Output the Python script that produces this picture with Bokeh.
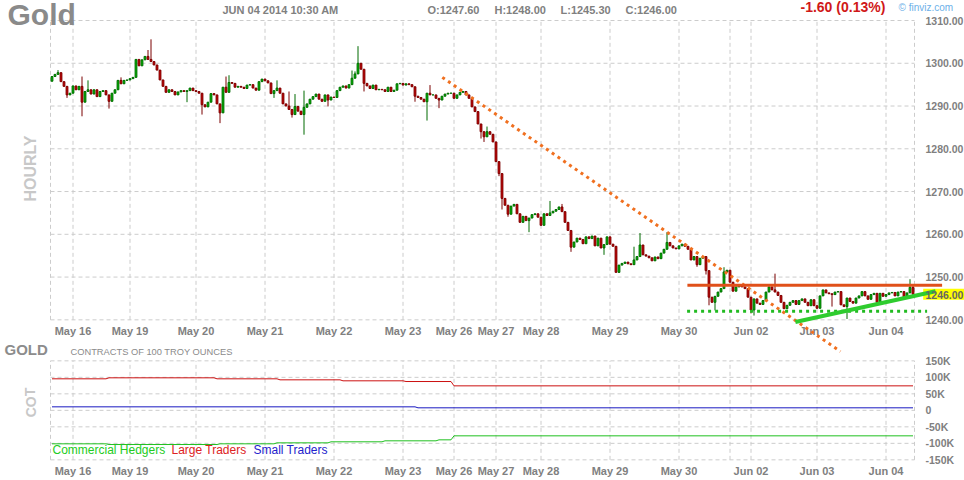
from bokeh.plotting import figure
from bokeh.models import Range1d, ColumnDataSource
from bokeh.core.properties import value
from bokeh.embed import file_html
from bokeh.resources import INLINE

FONT = "Liberation Sans"
GRAY = "#808080"
GRID = "#cccccc"

# Gold, hourly bars May 16 - Jun 04 2014
first_open = 1295.8
close = [
    1296.9, 1297.4, 1297.8, 1295.7, 1294.6, 1292.6, 1293.0, 1294.7, 1293.8, 1294.6,
    1290.9, 1293.4, 1293.8, 1292.8, 1293.8, 1292.2, 1293.4, 1293.6, 1292.6, 1291.1,
    1293.0, 1293.8, 1296.0, 1295.2, 1296.0, 1296.1, 1296.4, 1296.7, 1300.9, 1299.4,
    1300.8, 1301.6, 1300.9, 1300.4, 1299.6, 1298.4, 1296.1, 1294.6, 1293.2, 1293.8,
    1293.4, 1292.6, 1293.3, 1293.6, 1293.4, 1293.6, 1294.2, 1293.6, 1293.4, 1293.0,
    1290.3, 1289.8, 1290.9, 1292.9, 1292.6, 1290.5, 1288.4, 1294.4, 1293.2, 1295.5,
    1295.3, 1294.4, 1294.6, 1294.4, 1294.1, 1294.9, 1295.0, 1294.2, 1293.7, 1295.7,
    1296.3, 1295.9, 1295.4, 1292.9, 1293.6, 1294.2, 1293.0, 1290.5, 1290.0, 1289.2,
    1288.0, 1289.9, 1288.8, 1288.0, 1289.7, 1290.5, 1291.6, 1292.2, 1292.8, 1291.6,
    1291.1, 1292.6, 1291.4, 1292.1, 1292.0, 1293.6, 1294.4, 1294.7, 1294.2, 1295.0,
    1296.5, 1297.5, 1300.0, 1298.6, 1295.3, 1294.7, 1294.1, 1294.9, 1293.8, 1293.9,
    1293.8, 1293.4, 1294.4, 1293.4, 1293.7, 1295.2, 1295.3, 1294.9, 1295.2, 1295.0,
    1294.5, 1292.3, 1292.0, 1291.6, 1291.0, 1293.0, 1292.6, 1292.6, 1291.8, 1291.4,
    1292.3, 1292.8, 1293.0, 1293.0, 1291.8, 1292.6, 1293.2, 1293.4, 1292.6, 1291.8,
    1289.8, 1288.7, 1285.8, 1284.0, 1282.8, 1284.0, 1283.4, 1281.6, 1277.0, 1274.2,
    1268.4, 1266.8, 1264.7, 1266.6, 1267.0, 1264.8, 1262.8, 1264.2, 1263.2, 1263.8,
    1264.6, 1264.8, 1264.0, 1262.1, 1264.8, 1264.4, 1265.0, 1265.4, 1265.8, 1266.4,
    1265.3, 1262.8, 1260.9, 1257.0, 1258.2, 1259.1, 1258.8, 1257.8, 1259.4, 1259.0,
    1259.6, 1257.3, 1259.1, 1256.8, 1257.6, 1259.4, 1257.7, 1257.2, 1251.1, 1252.8,
    1253.2, 1253.5, 1253.1, 1252.9, 1254.0, 1254.8, 1257.5, 1255.2, 1254.9, 1254.5,
    1253.8, 1254.7, 1254.3, 1255.6, 1256.5, 1258.1, 1257.3, 1256.8, 1256.6, 1257.3,
    1257.7, 1257.2, 1256.5, 1254.0, 1254.8, 1252.9, 1254.4, 1254.8, 1251.5, 1245.3,
    1244.1, 1245.5, 1246.5, 1247.3, 1251.2, 1251.6, 1248.8, 1246.7, 1247.7, 1248.1,
    1247.7, 1247.3, 1245.3, 1242.3, 1244.9, 1243.9, 1243.6, 1244.5, 1246.5, 1247.7,
    1247.0, 1246.5, 1245.7, 1244.1, 1242.6, 1243.4, 1244.1, 1244.5, 1243.6, 1244.5,
    1244.9, 1244.1, 1243.3, 1244.7, 1243.3, 1242.7, 1245.6, 1247.0, 1246.3, 1246.1,
    1245.9, 1246.5, 1246.6, 1243.5, 1243.1, 1245.1, 1244.3, 1243.9, 1245.1, 1245.6,
    1246.6, 1245.6, 1244.8, 1245.9, 1246.2, 1244.1, 1246.2, 1245.5, 1245.9, 1246.3,
    1246.4, 1245.6, 1246.5, 1246.6, 1245.3, 1246.3, 1247.6, 1246.0,
]
# bars whose wick sticks out beyond the body
wick_high = {2: 1298.4, 10: 1296.9, 12: 1296.0, 23: 1296.7, 32: 1303.1, 33: 1305.6,
             58: 1296.9, 59: 1297.2, 75: 1296.0, 79: 1293.4, 81: 1292.8, 84: 1293.6,
             100: 1298.3, 101: 1298.1, 102: 1304.0, 126: 1294.9, 145: 1285.2,
             166: 1267.8, 170: 1267.1, 194: 1257.1, 196: 1260.3, 205: 1260.5,
             224: 1252.3, 241: 1250.8, 286: 1249.5, 287: 1248.0}
wick_low = {5: 1291.9, 10: 1287.6, 19: 1289.4, 45: 1290.9, 50: 1288.0, 56: 1286.0,
            74: 1291.9, 80: 1287.3, 84: 1283.3, 92: 1289.9, 104: 1293.4, 121: 1291.0,
            125: 1286.6, 129: 1289.5, 143: 1282.4, 144: 1281.6, 149: 1273.6,
            150: 1265.8, 152: 1264.1, 159: 1260.5, 173: 1255.9, 184: 1255.2,
            189: 1251.0, 215: 1252.4, 218: 1250.6, 219: 1243.4, 221: 1242.2,
            233: 1241.5, 234: 1241.0, 260: 1243.1, 265: 1240.2, 287: 1245.3}

change = "-1.60 (0.13%)"
stamp = "JUN 04 2014 10:30 AM"

day_bars = [7, 26, 48, 71, 94, 117, 134, 148, 163, 186, 209, 226, 233, 255, 278]
day_labels = ["May 16", "May 19", "May 20", "May 21", "May 22", "May 23", "May 26",
              "May 27", "May 28", "May 29", "May 30", "", "Jun 02", "Jun 03", "Jun 04"]

price_ticks = [1240, 1250, 1260, 1270, 1280, 1290, 1300, 1310]
cot_ticks = [-150000, -100000, -50000, 0, 50000, 100000, 150000]
cot_tick_labels = ["-150K", "-100K", "-50K", "0", "50K", "100K", "150K"]

# COT positions: bar where a new weekly value starts, and the value
large_bars = [0, 19, 55, 76, 97, 118, 134]
large_pos = [95500, 98500, 95500, 92400, 89400, 87300, 74200]
small_bars = [0, 122]
small_pos = [10600, 7600]
comm_bars = [0, 19, 56, 75, 93, 111, 129, 134]
comm_pos = [-101500, -103600, -101500, -98500, -95400, -92400, -89400, -77300]

# hand drawn lines: bar0, price0, bar1, price1
resistance = (211.8, 1248.1, 296.7, 1248.1)
support = (211.7, 1242.0, 291.7, 1242.0)
down_trend = (130.1, 1296.7, 262.8, 1232.6)
up_trend = (247.8, 1239.5, 294.5, 1246.7)

n = len(close)

# page layout (pixels): both panels share the same left/right edges
W, H = 964, 480
LEFT, RIGHT = 50, 914
P_TOP, P_BOT = 20, 319.33     # 1310 / 1240
C_TOP, C_BOT = 360.33, 459.33  # 150K / -150K

bar_px = (RIGHT - LEFT) / n
x0 = -0.5 - LEFT / bar_px
price_px = (price_ticks[-1] - price_ticks[0]) / (P_BOT - P_TOP)
cot_px = (cot_ticks[-1] - cot_ticks[0]) / (C_BOT - C_TOP)


def bx(px):
    return x0 + px / bar_px


def py(px):
    return price_ticks[-1] - (px - P_TOP) * price_px


def cy(px):
    return cot_ticks[-1] - (px - C_TOP) * cot_px


p = figure(width=W, height=H, x_range=Range1d(bx(0), bx(W)),
           y_range=Range1d(py(H), py(0)), output_backend="svg",
           toolbar_location=None, min_border=0)
p.extra_y_ranges = {"cot": Range1d(cy(H), cy(0))}
p.axis.visible = False
p.grid.visible = False
p.outline_line_color = None

grid_x = [-0.5] + day_bars + [n - 0.5]

# dashed grids of both panels
p.segment(x0=[-0.5] * len(price_ticks), x1=[n - 0.5] * len(price_ticks),
          y0=price_ticks, y1=price_ticks, line_color=GRID, line_dash="4 3")
p.segment(x0=grid_x, x1=grid_x, y0=[price_ticks[0]] * len(grid_x),
          y1=[price_ticks[-1]] * len(grid_x), line_color=GRID, line_dash="4 3")
p.segment(x0=[-0.5] * len(cot_ticks), x1=[n - 0.5] * len(cot_ticks),
          y0=cot_ticks, y1=cot_ticks, line_color=GRID, line_dash="4 3",
          y_range_name="cot")
p.segment(x0=grid_x, x1=grid_x, y0=[cot_ticks[0]] * len(grid_x),
          y1=[cot_ticks[-1]] * len(grid_x), line_color=GRID, line_dash="4 3",
          y_range_name="cot")

# candles
opens = [first_open] + close[:-1]
rising = [c >= o for o, c in zip(opens, close)]
src = ColumnDataSource(dict(
    x=list(range(n)),
    top=[max(o, c) for o, c in zip(opens, close)],
    bottom=[min(o, c) for o, c in zip(opens, close)],
    high=[wick_high.get(i, max(o, c)) for i, (o, c) in enumerate(zip(opens, close))],
    low=[wick_low.get(i, min(o, c)) for i, (o, c) in enumerate(zip(opens, close))],
    fill=["#00cc00" if r else "#dd0000" for r in rising],
    line=["#006a00" if r else "#7a0000" for r in rising],
))
p.segment(x0="x", y0="low", x1="x", y1="high", line_color="line", source=src)
p.vbar(x="x", width=0.6, top="top", bottom="bottom", fill_color="fill",
       line_color="line", line_width=1, source=src)


def steps(starts, values):
    xs, ys = [], []
    for k, (b, v) in enumerate(zip(starts, values)):
        end = starts[k + 1] - 1 if k + 1 < len(starts) else n - 1
        xs += [b, end]
        ys += [v, v]
    return xs, ys


for starts, values, color in [(large_bars, large_pos, "#cc1010"),
                              (small_bars, small_pos, "#1818c0"),
                              (comm_bars, comm_pos, "#20c020")]:
    sx, sy = steps(starts, values)
    p.line(sx, sy, line_color=color, line_width=1, y_range_name="cot")


def text(x, y, s, size, color, bold=True, **kw):
    p.text(x=list(x), y=list(y), text=list(s), text_font=value(FONT),
           text_font_size=size, text_font_style="bold" if bold else "normal",
           text_color=color, **kw)


# axis labels
text([bx(925)] * len(price_ticks), price_ticks, ["%.2f" % t for t in price_ticks],
     "10.5px", GRAY, text_baseline="middle")
text([bx(925)] * len(cot_ticks), cot_ticks, cot_tick_labels, "10.5px", GRAY,
     text_baseline="middle", y_range_name="cot")
named = [(b, s) for b, s in zip(day_bars, day_labels) if s]
for row in (330, 470):
    text([b for b, s in named], [py(row)] * len(named), [s for b, s in named],
         "11px", GRAY, text_align="center", text_baseline="middle")

# price marker, with the drawn lines running into it
p.quad(left=bx(922.7), right=bx(W), top=py(288.3), bottom=py(299.3),
       fill_color="#ffff00", line_color=None)
for seg, color, width, dash in [(down_trend, "#f07020", 3, "3 4"),
                                (support, "#22bb22", 3, "3 4"),
                                (resistance, "#e0501a", 3, "solid"),
                                (up_trend, "#2ecc2e", 4, "solid")]:
    p.line([seg[0], seg[2]], [seg[1], seg[3]], line_color=color,
           line_width=width, line_dash=dash)
text([bx(925)], [py(294)], ["%.2f" % close[-1]], "10.5px", "#666666",
     text_baseline="middle")

# header
text([bx(7)], [py(30)], ["Gold"], "30px", "#8a8a8a")
text([bx(222)], [py(15)], [stamp], "11px", GRAY)
text([bx(427), bx(494), bx(560), bx(625)], [py(15)] * 4,
     ["O:%.2f" % opens[-1], "H:%.2f" % wick_high[n - 1],
      "L:%.2f" % wick_low[n - 1], "C:%.2f" % close[-1]], "11px", GRAY)
text([bx(800)], [py(14.5)], [change], "14px", "#d01818")
text([bx(898)], [py(12)], ["\u00a9 finviz.com"], "10px", "#6cb0e8", bold=False)
text([bx(30)], [py(168)], ["HOURLY"], "16px", "#c8c8c8", angle=1.5708,
     text_align="center", text_baseline="middle")

# COT panel texts
text([bx(4)], [py(357)], ["GOLD"], "15px", "#8c8c8c")
text([bx(70)], [py(356)], ["CONTRACTS OF 100 TROY OUNCES"], "9.3px", "#8a8a8a",
     bold=False)
text([bx(30)], [py(402)], ["COT"], "14px", "#c8c8c8", angle=1.5708,
     text_align="center", text_baseline="middle")
text([bx(52), bx(171), bx(253)], [py(456.5)] * 3,
     ["Commercial Hedgers", "Large Traders", "Small Traders"], "12px",
     ["#22cc22", "#dd2222", "#2222cc"], bold=False)

open("out.html", "w").write(file_html(p, INLINE))
